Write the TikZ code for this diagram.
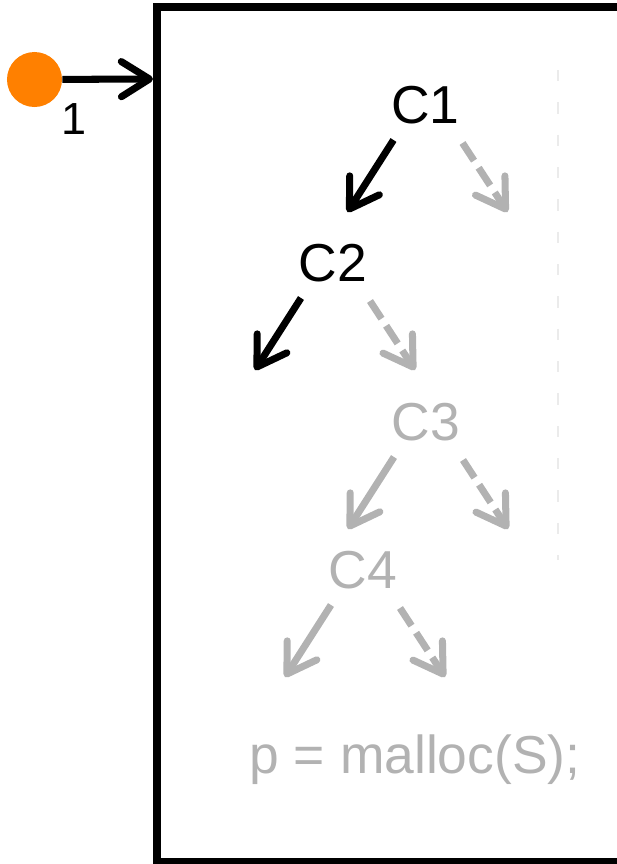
\documentclass[tikz,border=0pt]{standalone}
\usepackage{fontspec}
\setmainfont{Liberation Sans}
\usetikzlibrary{%
    arrows.meta,
    positioning
}
\definecolor{startorange}{RGB}{255,128,0}
\definecolor{fadegray}{RGB}{178,178,178}
\definecolor{guidegray}{RGB}{235,235,235}
\tikzset{headarrow/.style = {-{Straight Barb[length=20pt, width=25pt, round]}, line width=5pt}}
\tikzset{taken/.style = {headarrow, black}}
\tikzset{faded/.style = {headarrow, fadegray}}
\tikzset{fadeddash/.style = {faded, dash pattern=on 15pt off 6pt}}
\tikzset{cond/.style = {font=\fontsize{38}{44}\selectfont, inner sep=0pt, anchor=base}}

\begin{document}
\begin{tikzpicture}[x=0.025cm, y=-0.025cm]
    \useasboundingbox (0,0) rectangle (617,864);
    \clip (0,0) rectangle (617,864);

    % function body
    \draw[line width=5.7pt] (157,7) rectangle (621.5,862);
    \coordinate (entry) at (153,79);
    \coordinate (guidetop) at (558,70);
    \coordinate (guidebot) at (558,560);
    \draw[guidegray, line width=1.4pt, dash pattern=on 8pt off 15pt] (guidetop) -- (guidebot);

    % entry point
    \node[circle, fill=startorange, minimum size=1.375cm, inner sep=0pt] (start) at (34.5,79.5) {};
    \node[inner sep=0pt, font=\fontsize{32}{38}\selectfont] (one) [below right=17pt and -1pt of start.east] {1};
    \draw[taken] (start) -- (entry);

    % conditions
    \node[cond] (C1) at (425.5,123) {C1};
    \node[cond] (C2) at (333,281) {C2};
    \node[cond, fadegray] (C3) at (426,440) {C3};
    \node[cond, fadegray] (C4) at (363,588) {C4};
    \node[cond, fadegray] (malloc) at (415,773) {p = malloc(S);};

    % branches
    \foreach \Cond/\Left/\Right in {%
        C1/taken/fadeddash,
        C2/taken/fadeddash,
        C3/faded/fadeddash,
        C4/faded/fadeddash%
        }
        {
        \draw[\Left]  ([shift={(-32,17)}]\Cond.base) -- ++(-46,72) coordinate (\Cond-l);
        \draw[\Right] ([shift={(37,20)}]\Cond.base) -- ++(45,69) coordinate (\Cond-r);
        }
\end{tikzpicture}
\end{document}
